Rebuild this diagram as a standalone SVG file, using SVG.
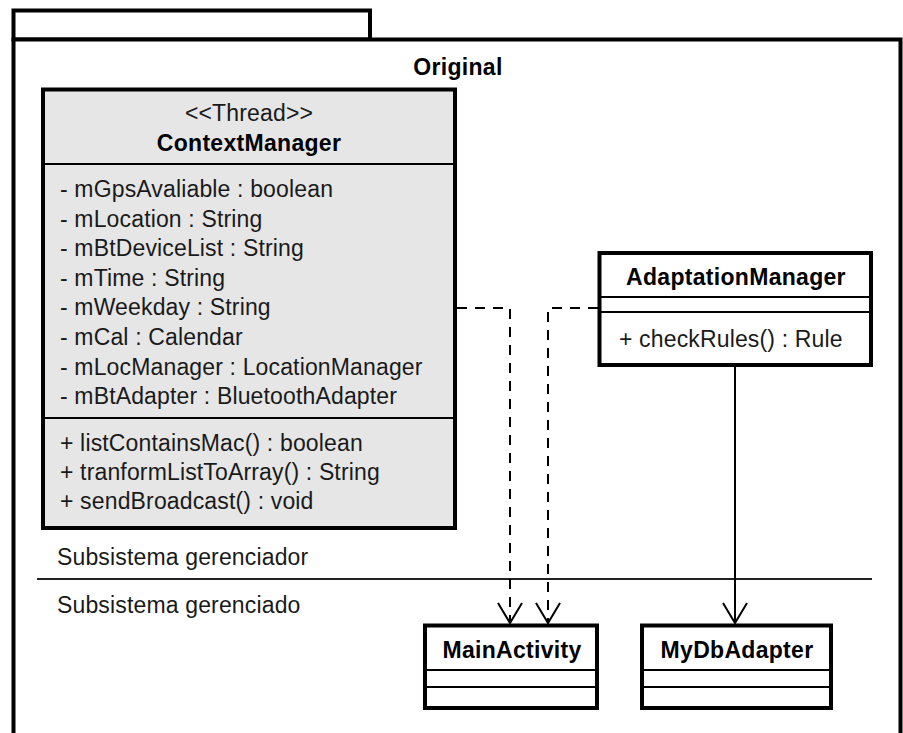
<svg xmlns="http://www.w3.org/2000/svg" width="903" height="733" viewBox="0 0 903 733">
  <style>
    .frame { fill: #ffffff; stroke: #000000; stroke-width: 4; }
    .cls { fill: #ffffff; stroke: #000000; stroke-width: 4; }
    .cls-grey { fill: #e6e6e6; stroke: #000000; stroke-width: 4; }
    .sep { stroke: #000000; stroke-width: 2; }
    .txt { font-family: "Liberation Sans", Arial, sans-serif; font-size: 23px; letter-spacing: 0.15px; fill: #1a1a1a; }
    .name { font-family: "Liberation Sans", Arial, sans-serif; font-size: 23px; letter-spacing: 0.3px; font-weight: bold; fill: #000000; text-anchor: middle; }
    .mid { text-anchor: middle; }
    .dep { fill: none; stroke: #000000; stroke-width: 2; stroke-dasharray: 10 8; }
    .assoc { fill: none; stroke: #000000; stroke-width: 2; }
    .head { fill: none; stroke: #000000; stroke-width: 2; }
    .divider { stroke: #222222; stroke-width: 2; }
  </style>

  <!-- package frame -->
  <g id="package-original">
    <rect class="frame" x="13.5" y="10.5" width="356.5" height="29"/>
    <rect class="frame" x="13.5" y="39.5" width="887" height="720"/>
    <text class="name" x="458" y="75">Original</text>
  </g>

  <!-- subsystem boundary -->
  <g id="boundary">
    <line class="divider" x1="37" y1="579" x2="872" y2="579"/>
    <text class="txt" x="57" y="565">Subsistema gerenciador</text>
    <text class="txt" x="57" y="613">Subsistema gerenciado</text>
  </g>

  <!-- connectors -->
  <g id="connectors">
    <polyline class="dep" points="457,308 510,308 510,622"/>
    <polyline class="dep" points="598,308 548,308 548,622"/>
    <line class="assoc" x1="735" y1="367" x2="735" y2="622"/>
    <polyline class="head" points="498,603 510,623 522,603"/>
    <polyline class="head" points="536,603 548,623 560,603"/>
    <polyline class="head" points="723,603 735,623 747,603"/>
  </g>

  <g id="ContextManager">
    <rect class="cls-grey" x="43" y="89.5" width="412" height="438.5"/>
    <line class="sep" x1="43" y1="164" x2="455" y2="164"/>
    <line class="sep" x1="43" y1="418" x2="455" y2="418"/>
    <text class="txt mid" x="249" y="121">&lt;&lt;Thread&gt;&gt;</text>
    <text class="name" x="249" y="151">ContextManager</text>
    <text class="txt" x="60" y="197">- mGpsAvaliable : boolean</text>
    <text class="txt" x="60" y="226.5">- mLocation : String</text>
    <text class="txt" x="60" y="256">- mBtDeviceList : String</text>
    <text class="txt" x="60" y="285.5">- mTime : String</text>
    <text class="txt" x="60" y="315">- mWeekday : String</text>
    <text class="txt" x="60" y="345">- mCal : Calendar</text>
    <text class="txt" x="60" y="375">- mLocManager : LocationManager</text>
    <text class="txt" x="60" y="404">- mBtAdapter : BluetoothAdapter</text>
    <text class="txt" x="60" y="451">+ listContainsMac() : boolean</text>
    <text class="txt" x="60" y="480">+ tranformListToArray() : String</text>
    <text class="txt" x="60" y="509">+ sendBroadcast() : void</text>
  </g>

  <g id="AdaptationManager">
    <rect class="cls" x="599.5" y="253" width="271.5" height="112"/>
    <line class="sep" x1="599.5" y1="297" x2="871" y2="297"/>
    <line class="sep" x1="599.5" y1="312" x2="871" y2="312"/>
    <text class="name" x="736" y="285">AdaptationManager</text>
    <text class="txt" x="619" y="347">+ checkRules() : Rule</text>
  </g>

  <g id="MainActivity">
    <rect class="cls" x="425" y="625.5" width="172" height="82.5"/>
    <line class="sep" x1="425" y1="670" x2="597" y2="670"/>
    <line class="sep" x1="425" y1="687" x2="597" y2="687"/>
    <text class="name" x="512" y="658">MainActivity</text>
  </g>

  <g id="MyDbAdapter">
    <rect class="cls" x="642" y="625.5" width="189" height="82.5"/>
    <line class="sep" x1="642" y1="670" x2="831" y2="670"/>
    <line class="sep" x1="642" y1="687" x2="831" y2="687"/>
    <text class="name" x="737" y="658">MyDbAdapter</text>
  </g>
</svg>
